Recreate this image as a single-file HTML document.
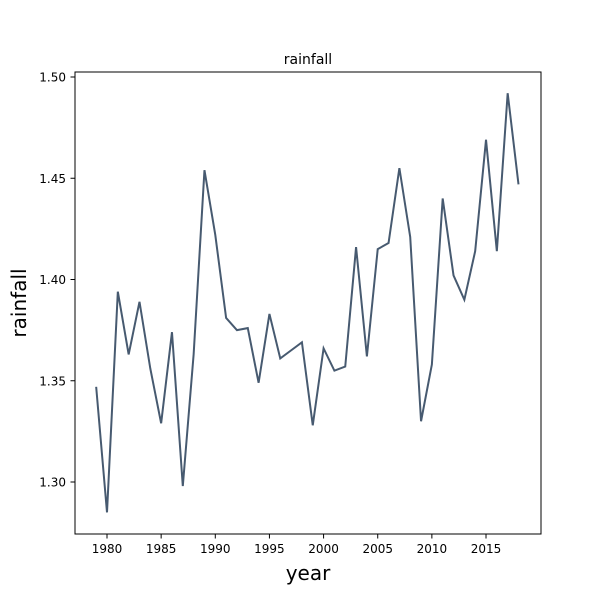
<!DOCTYPE html>
<html><head><meta charset="utf-8"><style>
body{margin:0;background:#fff;font-family:"Liberation Sans","DejaVu Sans",sans-serif;}
</style></head><body>
<svg id="chart" width="600" height="600" font-family="DejaVu Sans, Liberation Sans, sans-serif">
<rect width="600" height="600" fill="#fff"/>
<text x="308" y="64" text-anchor="middle" font-size="14">rainfall</text>
<g id="axes"></g>
<rect x="75" y="72" width="466" height="462" fill="none" stroke="#000" stroke-width="1"/>
<text x="308" y="580" text-anchor="middle" font-size="20">year</text>
<text transform="translate(26,303) rotate(-90)" text-anchor="middle" font-size="20">rainfall</text>
</svg>
<script>
const years=[1979,1980,1981,1982,1983,1984,1985,1986,1987,1988,1989,1990,1991,1992,1993,1994,1995,1996,1997,1998,1999,2000,2001,2002,2003,2004,2005,2006,2007,2008,2009,2010,2011,2012,2013,2014,2015,2016,2017,2018];
const rainfall=[1.347,1.285,1.394,1.363,1.389,1.356,1.329,1.374,1.298,1.363,1.454,1.422,1.381,1.375,1.376,1.349,1.383,1.361,1.365,1.369,1.328,1.366,1.355,1.357,1.416,1.362,1.415,1.418,1.455,1.421,1.330,1.358,1.440,1.402,1.390,1.414,1.469,1.414,1.492,1.447];
const xTicks=[1980,1985,1990,1995,2000,2005,2010,2015];
const yTicks=[1.30,1.35,1.40,1.45,1.50];
const ns="http://www.w3.org/2000/svg";
const X=v=>107+(v-1980)*10.829;
const Y=v=>482-(v-1.30)*2025;
const g=document.getElementById('axes');
function mk(t,a){const e=document.createElementNS(ns,t);for(const k in a)e.setAttribute(k,a[k]);return e;}
xTicks.forEach(t=>{
 const l=mk('line',{x1:X(t),x2:X(t),y1:534,y2:538.5,stroke:'#000'});
 
 
 g.appendChild(l);
 const tx=mk('text',{x:X(t),y:553,'text-anchor':'middle','font-size':'12'});
 tx.textContent=t;
 
 
 g.appendChild(tx);
});
yTicks.forEach(t=>{
 const l=mk('line',{x1:70.5,x2:75,y1:Y(t),y2:Y(t),stroke:'#000'});
 
 
 g.appendChild(l);
 const tx=mk('text',{x:66,y:Y(t)+4.5,'text-anchor':'end','font-size':'12'});
 tx.textContent=t.toFixed(2);
 
 
 g.appendChild(tx);
});
const p=mk('polyline',{points:years.map((y,i)=>X(y)+','+Y(rainfall[i])).join(' '),fill:'none',stroke:'#475a70','stroke-width':'2'});


g.appendChild(p);
</script>
</body></html>
